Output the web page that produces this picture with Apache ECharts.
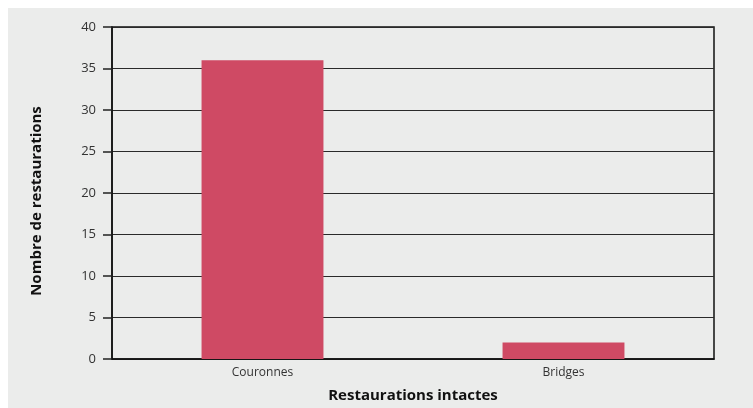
<!DOCTYPE html>
<html>
<head>
<meta charset="utf-8">
<script src="https://cdn.jsdelivr.net/npm/echarts@6/dist/echarts.min.js"></script>
<style>
  html, body { margin: 0; padding: 0; background: #ffffff; }
  #chart { width: 753px; height: 408px; }
</style>
</head>
<body>
<div id="chart"></div>
<script>
// Restorations still intact, by type
const categories = ['Couronnes', 'Bridges'];
const intactCounts = [36, 2];
const yTicks = { min: 0, max: 40, interval: 5 };

const xTitle = 'Restaurations intactes';
const yTitle = 'Nombre de restaurations';

const FONT = '"Open Sans", sans-serif';

const chart = echarts.init(document.getElementById('chart'), null, { renderer: 'canvas' });

chart.setOption({
  backgroundColor: '#ffffff',
  animation: false,
  graphic: [
    {
      type: 'rect',
      z: -10,
      silent: true,
      shape: { x: 8, y: 8, width: 745, height: 400 },
      style: { fill: '#ebeceb' }
    }
  ],
  grid: {
    left: 112,
    right: 39,
    top: 27,
    bottom: 49,
    show: true,
    backgroundColor: 'transparent',
    borderColor: '#111111',
    borderWidth: 1.5
  },
  xAxis: {
    type: 'category',
    data: categories,
    name: xTitle,
    nameLocation: 'middle',
    nameGap: 29,
    nameTextStyle: { fontFamily: FONT, fontWeight: 'bold', fontSize: 15, color: '#111111' },
    axisLine: { show: true, lineStyle: { color: '#111111', width: 1.5 } },
    axisTick: { show: false },
    axisLabel: { fontFamily: FONT, fontSize: 12, color: '#333333', margin: 8 },
    splitLine: { show: false }
  },
  yAxis: {
    type: 'value',
    min: yTicks.min,
    max: yTicks.max,
    interval: yTicks.interval,
    name: yTitle,
    nameLocation: 'middle',
    nameGap: 68,
    nameTextStyle: { fontFamily: FONT, fontWeight: 'bold', fontSize: 15, color: '#111111', padding: [0, 16, 0, 0] },
    axisLine: { show: true, lineStyle: { color: '#111111', width: 1.5 } },
    axisTick: { show: true, length: 9, inside: false, lineStyle: { color: '#222222', width: 1.5 } },
    axisLabel: { fontFamily: FONT, fontSize: 13, color: '#333333', margin: 16 },
    splitLine: { show: true, lineStyle: { color: '#2a2a2a', width: 1.2 } }
  },
  series: [
    {
      type: 'bar',
      data: intactCounts,
      barWidth: '40.5%',
      itemStyle: { color: '#cf4a64' }
    }
  ]
});
</script>
</body>
</html>
